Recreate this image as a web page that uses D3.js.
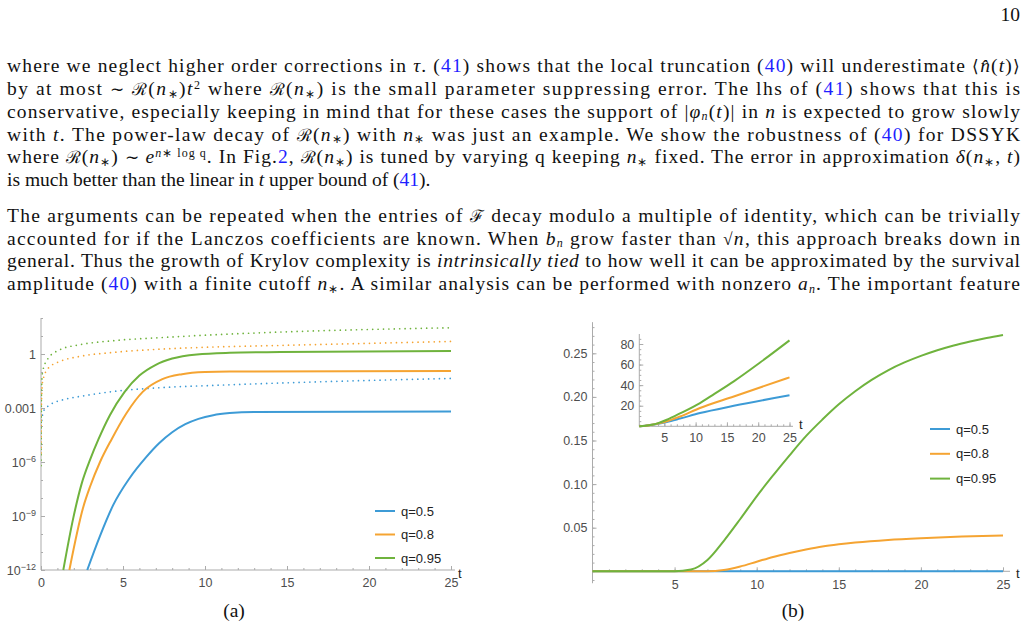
<!DOCTYPE html>
<html><head><meta charset="utf-8">
<script src="https://cdn.jsdelivr.net/npm/d3@7"></script>
<style>
body{margin:0;background:#fff}
svg{display:block}
.tx{font-family:"Liberation Serif","Times New Roman",serif;font-size:19.5px;fill:#111}
.tk text{font-family:"Liberation Sans",Arial,sans-serif;font-size:12.5px;fill:#4d4d4d}
.tk path,.tk line{stroke:#ababab;stroke-width:1}
.lg{font-family:"Liberation Sans",Arial,sans-serif;font-size:13px;fill:#222}
</style></head><body>
<svg id="page" width="1028" height="629"></svg>
<script>
// ---- data ----
const qLabels=["q=0.5","q=0.8","q=0.95"];
const colors=["#3d9bd6","#f5a432","#6fb33d"];

// panel (a): [t, value] on log scale, solid = exact, dotted = bound
const aSolid05=[[2.82,1e-12],[3.6,7.9e-11],[4.4,4.0e-9],[5.4,1.26e-7],[6.4,1.8e-6],[7.2,1.1e-5],[8.0,4.5e-5],[8.8,1.26e-4],[9.6,2.5e-4],[10.5,4.0e-4],[11.5,5.2e-4],[13,6.0e-4],[25,6.3e-4]];
const aSolid08=[[1.73,1e-12],[2.58,3.2e-9],[3.0,4.5e-8],[3.6,1e-6],[4.3,1.8e-5],[5.2,5.0e-4],[6.2,7.9e-3],[7.4,0.04],[8.6,0.076],[10,0.1],[11.5,0.107],[25,0.115]];
const aSolid095=[[1.36,1e-12],[1.97,7.9e-10],[2.48,6.3e-8],[3.0,1.4e-6],[3.5,1.8e-5],[4.2,4.0e-4],[5.1,7.9e-3],[6.0,0.063],[7.0,0.25],[8.0,0.56],[9.5,0.95],[11.5,1.17],[14.6,1.29],[25,1.48]];
const aDot05=[[0.01,1e-4],[0.14,6.5e-4],[0.55,1.5e-3],[1.36,2.9e-3],[2.38,4.4e-3],[4.41,8.3e-3],[7.46,0.0138],[10.5,0.018],[14.6,0.0245],[25,0.044]];
const aDot08=[[0.004,3.2e-6],[0.03,2.5e-3],[0.1,0.03],[0.45,0.166],[1.16,0.39],[2.38,0.74],[4.41,1.23],[7.46,1.9],[10.5,2.45],[14.6,3.0],[25,5.0]];
const aDot095=[[0.004,6.3e-7],[0.03,0.01],[0.1,0.107],[0.45,0.6],[1.16,1.74],[2.38,3.3],[4.41,5.5],[7.46,8.3],[10.5,11.7],[14.6,16.6],[25,28.8]];

// panel (b): main plot
const bMain05=[[0,0],[12.5,0.0001],[25,0.0002]];
const bMain08=[[0,0],[7,0],[8,0.0015],[9,0.0055],[10,0.011],[11,0.0165],[12,0.021],[13,0.025],[14,0.0285],[15,0.031],[16,0.033],[18,0.036],[20,0.038],[22.5,0.0398],[25,0.041]];
const bMain095=[[0,0],[5,0],[6,0.002],[7,0.013],[8,0.035],[9,0.06],[10,0.086],[11,0.11],[12,0.133],[13,0.155],[14,0.174],[15,0.1915],[16,0.2065],[17,0.2195],[18,0.2305],[19,0.2395],[20,0.247],[21,0.2535],[22,0.259],[23,0.2635],[24,0.2675],[25,0.271]];
// panel (b): inset
const bIn05=[[1,0],[2,0.5],[3,1.4],[4,2.5],[5.4,4.2],[7.5,7.5],[10.7,12.9],[16.1,19.9],[25,30.1]];
const bIn08=[[1,0],[2,0.5],[3,1.5],[4,2.8],[5.4,4.9],[7.5,9.5],[10.7,17.8],[16.1,29],[25,47.6]];
const bIn095=[[1,0],[2,0.5],[3,1.5],[4,3.1],[5.4,6.4],[7.5,12.5],[10.7,22.6],[13,31.5],[16.1,43.7],[20.3,62],[25,83.5]];

const aXTicks=[0,5,10,15,20,25];
const aYTicks=[1e-12,1e-9,1e-6,1e-3,1];
const aYMinor=d3.range(-12,3).map(k=>Math.pow(10,k));
const bXTicks=[5,10,15,20,25];
const bYTicks=[0.05,0.10,0.15,0.20,0.25];
const bYMinor=d3.range(-1,29).map(k=>k/100);
const inXTicks=[5,10,15,20,25];
const inYTicks=[20,40,60,80];
const inYMinor=d3.range(0,90,5);

// ---- text ----
const para1=[
 [["where we neglect higher order corrections in "],["τ","i"],[". ("],["41","b"],[") shows that the local truncation ("],["40","b"],[") will underestimate ⟨"],["n̂","i"],["("],["t","i"],[")⟩"]],
 [["by at most ∼ ℛ("],["n","i"],["∗","s"],[")"],["t","i"],["2","p"],[" where ℛ("],["n","i"],["∗","s"],[") is the small parameter suppressing error. The lhs of ("],["41","b"],[") shows that this is"]],
 [["conservative, especially keeping in mind that for these cases the support of |"],["φ","i"],["n","si"],["("],["t","i"],[")| in "],["n","i"],[" is expected to grow slowly"]],
 [["with "],["t","i"],[". The power-law decay of ℛ("],["n","i"],["∗","s"],[") with "],["n","i"],["∗","s"],[" was just an example. We show the robustness of ("],["40","b"],[") for DSSYK"]],
 [["where ℛ("],["n","i"],["∗","s"],[") ∼ "],["e","i"],["n","pi"],["∗ log q","p"],[". In Fig."],["2","b"],[", ℛ("],["n","i"],["∗","s"],[") is tuned by varying q keeping "],["n","i"],["∗","s"],[" fixed. The error in approximation "],["δ","i"],["("],["n","i"],["∗","s"],[", "],["t","i"],[")"]],
 [["is much better than the linear in "],["t","i"],[" upper bound of ("],["41","b"],[")."]]
];
const para2=[
 [["The arguments can be repeated when the entries of ℱ decay modulo a multiple of identity, which can be trivially"]],
 [["accounted for if the Lanczos coefficients are known. When "],["b","i"],["n","si"],[" grow faster than √"],["n","i"],[", this approach breaks down in"]],
 [["general. Thus the growth of Krylov complexity is "],["intrinsically tied","i"],[" to how well it can be approximated by the survival"]],
 [["amplitude ("],["40","b"],[") with a finite cutoff "],["n","i"],["∗","s"],[". A similar analysis can be performed with nonzero "],["a","i"],["n","si"],[". The important feature"]]
];

const svg=d3.select("#page");
svg.append("rect").attr("width",1028).attr("height",629).attr("fill","#fff");

function writeLine(segs,y,justify){
  const t=svg.append("text").attr("class","tx").attr("x",7).attr("y",y);
  let shift=0;
  segs.forEach(([str,m=""])=>{
    // symbols that fall back to another font get a smaller size
    str.split(/([ℛℱ∼⟨⟩√])/).filter(s=>s.length).forEach(s=>{
      const sp=t.append("tspan").text(s);
      let target=0;
      if(m.includes("s")) target=2.5;
      if(m.includes("p")) target=-6.5;
      if(target!==shift){sp.attr("dy",target-shift);shift=target;}
      if(m.includes("i")) sp.attr("font-style","italic");
      if(m.includes("b")) sp.attr("fill","#1f1fff");
      if(target!==0) sp.attr("font-size","12px");
      else if(/[ℛℱ∼⟨⟩√]/.test(s)) sp.attr("font-size","17px");
    });
  });
  if(justify) t.attr("textLength",1013).attr("lengthAdjust","spacing");
}
para1.forEach((l,i)=>writeLine(l,72.3+i*22.75,i<para1.length-1));
para2.forEach((l,i)=>writeLine(l,221.8+i*22.75,true));
svg.append("text").attr("class","tx").attr("x",1020).attr("y",21).attr("text-anchor","end").text("10");
svg.append("text").attr("class","tx").attr("x",234).attr("y",617).attr("text-anchor","middle").text("(a)");
svg.append("text").attr("class","tx").attr("x",793).attr("y",617).attr("text-anchor","middle").text("(b)");

// ---- axes helpers ----
function xAxis(scale,y,major,minor,x0,x1,fmt,pad){
  const g=svg.append("g").attr("class","tk").attr("transform",`translate(0,${y})`);
  g.append("line").attr("x1",x0).attr("x2",x1);
  g.append("g").call(d3.axisBottom(scale).tickValues(minor).tickSizeInner(-2).tickSizeOuter(0).tickFormat(""))
    .call(s=>s.select(".domain").remove());
  g.append("g").call(d3.axisBottom(scale).tickValues(major).tickSizeInner(-4).tickSizeOuter(0).tickPadding(pad).tickFormat(fmt))
    .call(s=>s.select(".domain").remove());
  return g;
}
function yAxis(scale,x,major,minor,y0,y1,fmt){
  const g=svg.append("g").attr("class","tk").attr("transform",`translate(${x},0)`);
  g.append("line").attr("y1",y0).attr("y2",y1);
  g.append("g").call(d3.axisLeft(scale).tickValues(minor).tickSizeInner(-2).tickSizeOuter(0).tickFormat(""))
    .call(s=>s.select(".domain").remove());
  const m=g.append("g").call(d3.axisLeft(scale).tickValues(major).tickSizeInner(-4).tickSizeOuter(0).tickPadding(5).tickFormat(fmt))
    .call(s=>s.select(".domain").remove());
  return m;
}
function curve(data,xs,ys,color,clip,dotted){
  const line=d3.line().x(d=>xs(d[0])).y(d=>ys(d[1])).curve(d3.curveMonotoneX);
  const p=svg.append("path").datum(data).attr("d",line).attr("fill","none")
    .attr("stroke",color).attr("clip-path",`url(#${clip})`);
  if(dotted) p.attr("stroke-width",1.7).attr("stroke-dasharray","0 5.4").attr("stroke-linecap","round");
  else p.attr("stroke-width",2);
}
function legend(x,y0,step){
  qLabels.forEach((q,i)=>{
    const y=y0+i*step;
    svg.append("line").attr("x1",x).attr("x2",x+20).attr("y1",y).attr("y2",y)
      .attr("stroke",colors[i]).attr("stroke-width",2);
    svg.append("text").attr("class","lg").attr("x",x+26).attr("y",y).attr("dy","0.36em").text(q);
  });
}
const defs=svg.append("defs");
function clipRect(id,x,y,w,h){defs.append("clipPath").attr("id",id).append("rect").attr("x",x).attr("y",y).attr("width",w).attr("height",h);}

// ---- panel (a) ----
const xa=d3.scaleLinear().domain([0,25]).range([41,451]);
const ya=d3.scaleLog().domain([1e-12,100]).range([570,318]);
clipRect("clipA",41,300,420,271);
xAxis(xa,570,aXTicks,d3.range(0,26),41,455,d3.format("d"),8);
const ay=yAxis(ya,41,aYTicks,aYMinor,318,570,d=>"");
ay.selectAll(".tick text").each(function(d){
  const t=d3.select(this);
  if(d===1) t.text("1");
  else if(d===1e-3) t.text("0.001");
  else{
    const k=Math.round(Math.log10(d));
    t.append("tspan").text("10");
    t.append("tspan").attr("dy","-0.45em").attr("font-size","9px").text("−"+(-k));
  }
});
svg.append("text").attr("class","lg").attr("x",458).attr("y",578).attr("fill","#4d4d4d").text("t");
[aDot05,aDot08,aDot095].forEach((d,i)=>curve(d,xa,ya,colors[i],"clipA",true));
[aSolid05,aSolid08,aSolid095].forEach((d,i)=>curve(d,xa,ya,colors[i],"clipA",false));
legend(375,511,23.5);

// ---- panel (b) main ----
const xb=d3.scaleLinear().domain([0,25]).range([592.5,1003]);
const yb=d3.scaleLinear().domain([0,0.25]).range([571.3,353.3]);
clipRect("clipB",592,315,425,262);
xAxis(xb,571.3,bXTicks,d3.range(1,26),592.5,1010,d3.format("d"),9);
yAxis(yb,592.5,bYTicks,bYMinor,yb(-0.0137),yb(0.2857),d3.format(".2f"));
svg.append("text").attr("class","lg").attr("x",1016).attr("y",578).attr("fill","#4d4d4d").text("t");
[bMain05,bMain08,bMain095].forEach((d,i)=>curve(d,xb,yb,colors[i],"clipB",false));
legend(930,429,24.8);

// ---- panel (b) inset ----
const xi=d3.scaleLinear().domain([1,25]).range([639.3,789.5]);
const yi=d3.scaleLinear().domain([0,80]).range([426.3,344]);
clipRect("clipI",638,330,160,100);
xAxis(xi,426.3,inXTicks,d3.range(1,26),639.3,793,d3.format("d"),7);
yAxis(yi,639.3,inYTicks,inYMinor,334,426.3,d3.format("d"));
svg.append("text").attr("class","lg").attr("x",799).attr("y",429).attr("fill","#4d4d4d").text("t");
[bIn05,bIn08,bIn095].forEach((d,i)=>curve(d,xi,yi,colors[i],"clipI",false));
</script></body></html>
